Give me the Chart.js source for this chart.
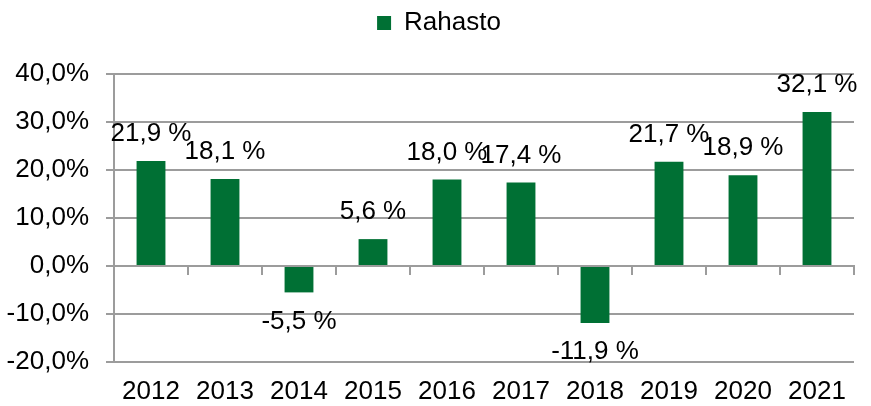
<!DOCTYPE html>
<html>
<head>
<meta charset="utf-8">
<script src="https://cdn.jsdelivr.net/npm/chart.js@4/dist/chart.umd.min.js"></script>
<style>
html,body{margin:0;padding:0;background:#fff;}
#wrap{width:871px;height:406px;position:relative;}
</style>
</head>
<body>
<div id="wrap"><canvas id="c" width="871" height="406"></canvas></div>
<script>
const categories = ['2012','2013','2014','2015','2016','2017','2018','2019','2020','2021'];
const seriesName = 'Rahasto';
const values = [21.9, 18.1, -5.5, 5.6, 18.0, 17.4, -11.9, 21.7, 18.9, 32.1];
const yTicks = [-20, -10, 0, 10, 20, 30, 40];

const GREEN = '#007034';
const GRID = '#9c9c9c';
const FONT = "'Liberation Sans', Arial, sans-serif";
const FS = 26;

function fmtLabel(v){ return v.toFixed(1).replace('.', ',') + ' %'; }
function fmtTick(v){ return Number(v).toFixed(1).replace('.', ',') + '%'; }

const dataLabels = {
  id: 'dataLabels',
  afterDatasetsDraw(chart){
    const ctx = chart.ctx;
    const meta = chart.getDatasetMeta(0);
    ctx.save();
    ctx.font = FS + 'px ' + FONT;
    ctx.fillStyle = '#000';
    ctx.textAlign = 'center';
    ctx.textBaseline = 'middle';
    meta.data.forEach((bar, i) => {
      const v = values[i];
      const y = v >= 0 ? bar.y - 27 : bar.y + 29;
      ctx.fillText(fmtLabel(v), bar.x, y);
    });
    ctx.restore();
  }
};

const legendSpace = {
  id: 'legendSpace',
  beforeInit(chart){
    const lg = chart.legend;
    const fit = lg.fit;
    lg.fit = function(){ fit.call(lg); lg.height = 74; };
  },
  beforeDraw(chart){
    const lg = chart.legend;
    if (!lg._shifted) { lg.left += 12; lg.right += 12; lg._shifted = true; }
  }
};

new Chart(document.getElementById('c'), {
  type: 'bar',
  data: {
    labels: categories,
    datasets: [{
      label: seriesName,
      data: values,
      backgroundColor: GREEN,
      borderWidth: 0,
      barPercentage: 0.39,
      categoryPercentage: 1.0
    }]
  },
  plugins: [dataLabels, legendSpace],
  options: {
    responsive: false,
    animation: false,
    layout: { padding: { top: 0, right: 17, bottom: 0, left: 0 } },
    plugins: {
      legend: {
        display: true,
        position: 'top',
        labels: {
          boxWidth: 14, boxHeight: 14,
          color: '#000',
          font: { family: FONT, size: FS },
          padding: 10
        }
      },
      tooltip: { enabled: false }
    },
    scales: {
      x: {
        type: 'category',
        position: 'bottom',
        afterFit(scale){ scale.height = 44; },
        grid: { display: false, drawTicks: false },
        border: { display: false },
        ticks: { color: '#000', font: { family: FONT, size: FS }, padding: 14, maxRotation: 0, autoSkip: false }
      },
      x0: {
        type: 'category',
        position: { y: 0 },
        grid: { display: true, drawOnChartArea: false, drawTicks: true, tickLength: 8, offset: true, color: GRID, lineWidth: 2 },
        border: { display: true, color: GRID, width: 2 },
        ticks: { display: false }
      },
      y: {
        min: -20, max: 40,
        afterBuildTicks(scale){ scale.ticks = yTicks.map(v => ({ value: v })); },
        afterFit(scale){ scale.width = 114; },
        grid: { color: GRID, lineWidth: 2, tickLength: 8, drawTicks: true },
        border: { display: true, color: GRID, width: 2 },
        ticks: { color: '#000', font: { family: FONT, size: FS }, padding: 17, callback: v => fmtTick(v) }
      }
    }
  }
});
</script>
</body>
</html>
